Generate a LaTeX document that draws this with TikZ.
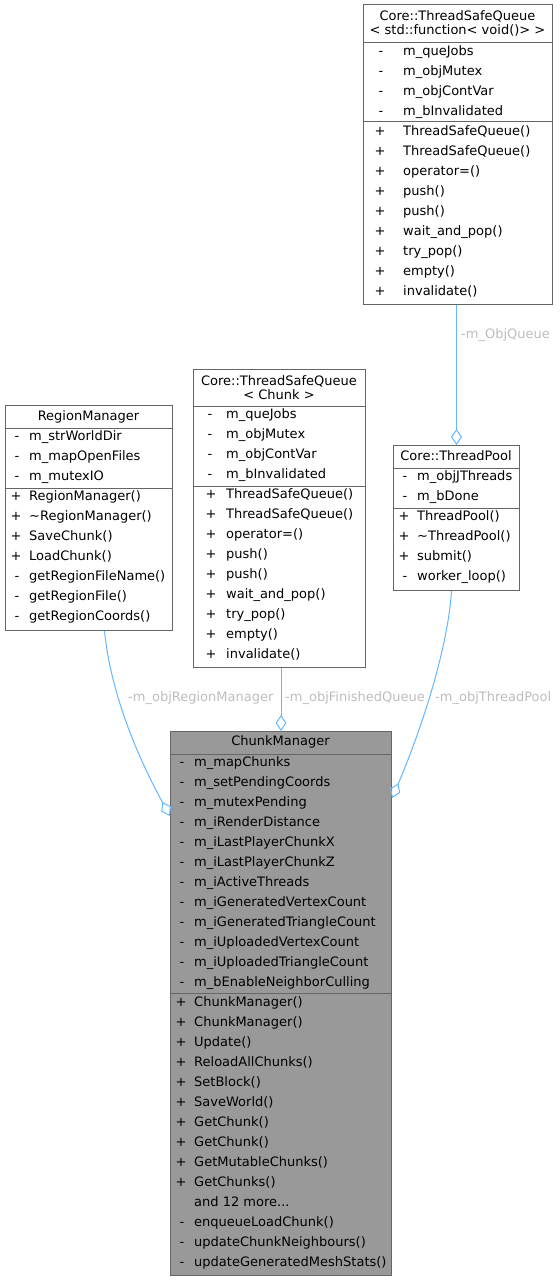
\documentclass[tikz,border=0pt]{standalone}
\usepackage{fontspec}
\setmainfont{DejaVu Sans}
\usetikzlibrary{arrows.meta}
\definecolor{bordergray}{HTML}{666666}
\definecolor{mainfill}{HTML}{999999}
\definecolor{edgeblue}{HTML}{63B8FF}
\definecolor{labelgray}{HTML}{BEBEBE}
\tikzset{
  classbox/.style={draw=bordergray, line width=1pt, fill=white, inner sep=0pt, anchor=north west},
  mainbox/.style={classbox, fill=mainfill},
  sepline/.style={draw=bordergray, line width=1pt},
  txt/.style={anchor=west, inner sep=0pt, text height=9.5pt, text depth=2.5pt, font=\fontsize{13pt}{15pt}\selectfont},
  mk/.style={anchor=center, inner sep=0pt, text height=9.5pt, text depth=2.5pt, font=\fontsize{13pt}{15pt}\selectfont},
  ttl/.style={anchor=center, inner sep=0pt, text height=9.5pt, text depth=2.5pt, font=\fontsize{13pt}{15pt}\selectfont},
  edgelabel/.style={anchor=west, inner sep=0pt, text height=9.5pt, text depth=2.5pt, text=labelgray, font=\fontsize{13pt}{15pt}\selectfont},
  aggr/.style={draw=edgeblue, line width=1pt, -{Diamond[open, length=16pt, width=11pt]}},
}
\newcommand\mrow[6]{%
  \node[mk] (#1-m) at (#2,#4) {#5};
  \node[txt] (#1) at (#3,#4) {#6};
}
\begin{document}
\begin{tikzpicture}[x=1pt, y=-1pt]
\fill[white] (0,0) rectangle (559,1281);
\useasboundingbox (0,0) rectangle (559,1281);

% ---- Core::ThreadSafeQueue< std::function< void()> >
\node[classbox, minimum width=189pt, minimum height=300pt] (tsqf) at (363,4) {};
\node[ttl] (tsqf-t1) at (457.5,17) {Core::ThreadSafeQueue};
\node[ttl] (tsqf-t2) at (457.5,31) {< std::function< void()> >};
\draw[sepline] (tsqf.west |- 0,43) -- (tsqf.east |- 0,43);
\draw[sepline] (tsqf.west |- 0,122) -- (tsqf.east |- 0,122);
\mrow{tsqf-a1}{381}{403}{52}{-}{m\_queJobs}
\mrow{tsqf-a2}{381}{403}{72}{-}{m\_objMutex}
\mrow{tsqf-a3}{381}{403}{92}{-}{m\_objContVar}
\mrow{tsqf-a4}{381}{403}{112}{-}{m\_bInvalidated}
\mrow{tsqf-o1}{380}{403}{132}{+}{ThreadSafeQueue()}
\mrow{tsqf-o2}{380}{403}{152}{+}{ThreadSafeQueue()}
\mrow{tsqf-o3}{380}{403}{172}{+}{operator=()}
\mrow{tsqf-o4}{380}{403}{192}{+}{push()}
\mrow{tsqf-o5}{380}{403}{212}{+}{push()}
\mrow{tsqf-o6}{380}{403}{232}{+}{wait\_and\_pop()}
\mrow{tsqf-o7}{380}{403}{252}{+}{try\_pop()}
\mrow{tsqf-o8}{380}{403}{272}{+}{empty()}
\mrow{tsqf-o9}{380}{403}{292}{+}{invalidate()}

% ---- Core::ThreadSafeQueue< Chunk >
\node[classbox, minimum width=172pt, minimum height=298pt] (tsqc) at (193,369) {};
\node[ttl] (tsqc-t1) at (279,382) {Core::ThreadSafeQueue};
\node[ttl] (tsqc-t2) at (279,396) {< Chunk >};
\draw[sepline] (tsqc.west |- 0,406) -- (tsqc.east |- 0,406);
\draw[sepline] (tsqc.west |- 0,486) -- (tsqc.east |- 0,486);
\mrow{tsqc-a1}{210}{226}{415}{-}{m\_queJobs}
\mrow{tsqc-a2}{210}{226}{435}{-}{m\_objMutex}
\mrow{tsqc-a3}{210}{226}{455}{-}{m\_objContVar}
\mrow{tsqc-a4}{210}{226}{475}{-}{m\_bInvalidated}
\mrow{tsqc-o1}{211}{226}{495}{+}{ThreadSafeQueue()}
\mrow{tsqc-o2}{211}{226}{515}{+}{ThreadSafeQueue()}
\mrow{tsqc-o3}{211}{226}{535}{+}{operator=()}
\mrow{tsqc-o4}{211}{226}{555}{+}{push()}
\mrow{tsqc-o5}{211}{226}{575}{+}{push()}
\mrow{tsqc-o6}{211}{226}{595}{+}{wait\_and\_pop()}
\mrow{tsqc-o7}{211}{226}{615}{+}{try\_pop()}
\mrow{tsqc-o8}{211}{226}{635}{+}{empty()}
\mrow{tsqc-o9}{211}{226}{655}{+}{invalidate()}

% ---- RegionManager
\node[classbox, minimum width=167pt, minimum height=225pt] (rm) at (5,405) {};
\node[ttl] (rm-t) at (88.5,417) {RegionManager};
\draw[sepline] (rm.west |- 0,428) -- (rm.east |- 0,428);
\draw[sepline] (rm.west |- 0,488) -- (rm.east |- 0,488);
\mrow{rm-a1}{17}{29}{437}{-}{m\_strWorldDir}
\mrow{rm-a2}{17}{29}{457}{-}{m\_mapOpenFiles}
\mrow{rm-a3}{17}{29}{477}{-}{m\_mutexIO}
\mrow{rm-o1}{16}{29}{497}{+}{RegionManager()}
\mrow{rm-o2}{16}{29}{517}{+}{\textasciitilde RegionManager()}
\mrow{rm-o3}{16}{29}{537}{+}{SaveChunk()}
\mrow{rm-o4}{16}{29}{557}{+}{LoadChunk()}
\mrow{rm-o5}{17}{29}{577}{-}{getRegionFileName()}
\mrow{rm-o6}{17}{29}{597}{-}{getRegionFile()}
\mrow{rm-o7}{17}{29}{617}{-}{getRegionCoords()}

% ---- Core::ThreadPool
\node[classbox, minimum width=126pt, minimum height=145pt] (tp) at (393,445) {};
\node[ttl] (tp-t) at (456,457) {Core::ThreadPool};
\draw[sepline] (tp.west |- 0,468) -- (tp.east |- 0,468);
\draw[sepline] (tp.west |- 0,508) -- (tp.east |- 0,508);
\mrow{tp-a1}{405}{417}{477}{-}{m\_objJThreads}
\mrow{tp-a2}{405}{417}{497}{-}{m\_bDone}
\mrow{tp-o1}{404}{417}{517}{+}{ThreadPool()}
\mrow{tp-o2}{404}{417}{537}{+}{\textasciitilde ThreadPool()}
\mrow{tp-o3}{404}{417}{557}{+}{submit()}
\mrow{tp-o4}{405}{417}{577}{-}{worker\_loop()}

% ---- ChunkManager
\node[mainbox, minimum width=221pt, minimum height=544pt] (cm) at (170,731) {};
\node[ttl] (cm-t) at (280.5,742) {ChunkManager};
\draw[sepline] (cm.west |- 0,754) -- (cm.east |- 0,754);
\draw[sepline] (cm.west |- 0,993) -- (cm.east |- 0,993);
\mrow{cm-a1}{182}{194}{763}{-}{m\_mapChunks}
\mrow{cm-a2}{182}{194}{783}{-}{m\_setPendingCoords}
\mrow{cm-a3}{182}{194}{803}{-}{m\_mutexPending}
\mrow{cm-a4}{182}{194}{823}{-}{m\_iRenderDistance}
\mrow{cm-a5}{182}{194}{843}{-}{m\_iLastPlayerChunkX}
\mrow{cm-a6}{182}{194}{863}{-}{m\_iLastPlayerChunkZ}
\mrow{cm-a7}{182}{194}{883}{-}{m\_iActiveThreads}
\mrow{cm-a8}{182}{194}{903}{-}{m\_iGeneratedVertexCount}
\mrow{cm-a9}{182}{194}{923}{-}{m\_iGeneratedTriangleCount}
\mrow{cm-a10}{182}{194}{943}{-}{m\_iUploadedVertexCount}
\mrow{cm-a11}{182}{194}{963}{-}{m\_iUploadedTriangleCount}
\mrow{cm-a12}{182}{194}{983}{-}{m\_bEnableNeighborCulling}
\mrow{cm-o1}{181}{194}{1003}{+}{ChunkManager()}
\mrow{cm-o2}{181}{194}{1023}{+}{ChunkManager()}
\mrow{cm-o3}{181}{194}{1043}{+}{Update()}
\mrow{cm-o4}{181}{194}{1063}{+}{ReloadAllChunks()}
\mrow{cm-o5}{181}{194}{1083}{+}{SetBlock()}
\mrow{cm-o6}{181}{194}{1103}{+}{SaveWorld()}
\mrow{cm-o7}{181}{194}{1123}{+}{GetChunk()}
\mrow{cm-o8}{181}{194}{1143}{+}{GetChunk()}
\mrow{cm-o9}{181}{194}{1163}{+}{GetMutableChunks()}
\mrow{cm-o10}{181}{194}{1183}{+}{GetChunks()}
\node[txt] (cm-more) at (194,1203) {and 12 more...};
\mrow{cm-p1}{182}{194}{1223}{-}{enqueueLoadChunk()}
\mrow{cm-p2}{182}{194}{1243}{-}{updateChunkNeighbours()}
\mrow{cm-p3}{182}{194}{1263}{-}{updateGeneratedMeshStats()}

% ---- connectors
\draw[aggr] (tsqf.south -| tp.north) -- (tp.north);
\node[edgelabel] (lbl-q) at (461,335) {-m\_ObjQueue};

\draw[aggr] (tsqc.south -| cm.north) -- (cm.north);
\node[edgelabel] (lbl-f) at (285,698) {-m\_objFinishedQueue};

\draw[aggr] ([xshift=15.5pt]rm.south) .. controls (112,705) and (147,774) .. ([yshift=-85pt]cm.north west);
\node[edgelabel] (lbl-r) at (128,698) {-m\_objRegionManager};

\draw[aggr] ([xshift=-5pt]tp.south) .. controls (447,660) and (412,752) .. ([yshift=-67pt]cm.north east);
\node[edgelabel] (lbl-t) at (435,698) {-m\_objThreadPool};
\end{tikzpicture}
\end{document}
